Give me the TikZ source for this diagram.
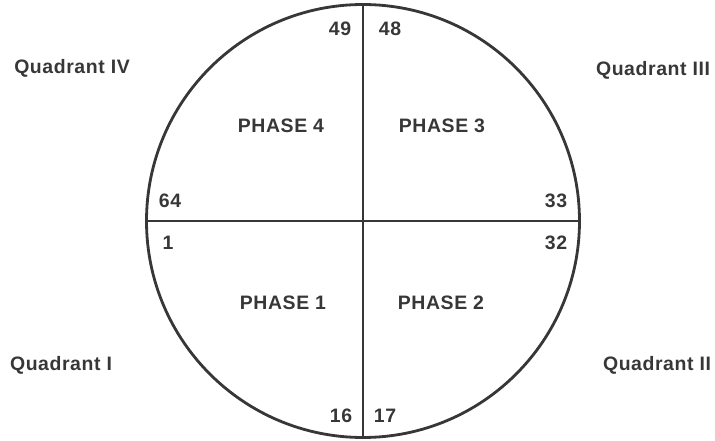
\documentclass[tikz,border=0pt]{standalone}
\usepackage{fontspec}
\newfontfamily\labelfont{Liberation Sans}[LetterSpace=3]
\usetikzlibrary{positioning}
\definecolor{ink}{RGB}{55,55,55}
\tikzset{
  ring/.style={circle,draw=ink,line width=2.4pt,minimum size=433*0.3mm,
    inner sep=0pt,outer sep=0pt},
  divider/.style={draw=ink,line width=1.6pt},
  lab/.style={font=\labelfont\bfseries\fontsize{16.6}{18}\selectfont,text=ink,
    inner sep=0pt},
  quadlab/.style={lab},
  phaselab/.style={lab},
  numlab/.style={lab}
}
\begin{document}
\begin{tikzpicture}[x=0.3mm,y=-0.3mm]
  \useasboundingbox (0,0) rectangle (715,441);
  % the wheel and its cross
  \node[ring] (wheel) at (363,221) {};
  \draw[divider] (wheel.north) -- (wheel.south);
  \draw[divider] (wheel.west) -- (wheel.east);
  % quadrant names
  \node[quadlab] (q4) at (72,68) {Quadrant IV};
  \node[quadlab] (q3) at (653,70) {Quadrant III};
  \node[quadlab] (q1) at (61,365) {Quadrant I};
  \node[quadlab] (q2) at (657,365) {Quadrant II};
  % phases
  \node[phaselab] (p4) at (281,126) {PHASE 4};
  \node[phaselab] (p3) at (442,126) {PHASE 3};
  \node[phaselab] (p1) at (283,303) {PHASE 1};
  \node[phaselab] (p2) at (441,303) {PHASE 2};
  % numbering at the ends of each phase
  \node[numlab] (n49) at (340,29) {49};
  \node[numlab] (n48) at (390,29) {48};
  \node[numlab] (n64) at (170,201) {64};
  \node[numlab] (n33) at (556,201) {33};
  \node[numlab] (n1) at (168,243) {1};
  \node[numlab] (n32) at (556,243) {32};
  \node[numlab] (n16) at (341,416) {16};
  \node[numlab] (n17) at (385,416) {17};
\end{tikzpicture}
\end{document}
